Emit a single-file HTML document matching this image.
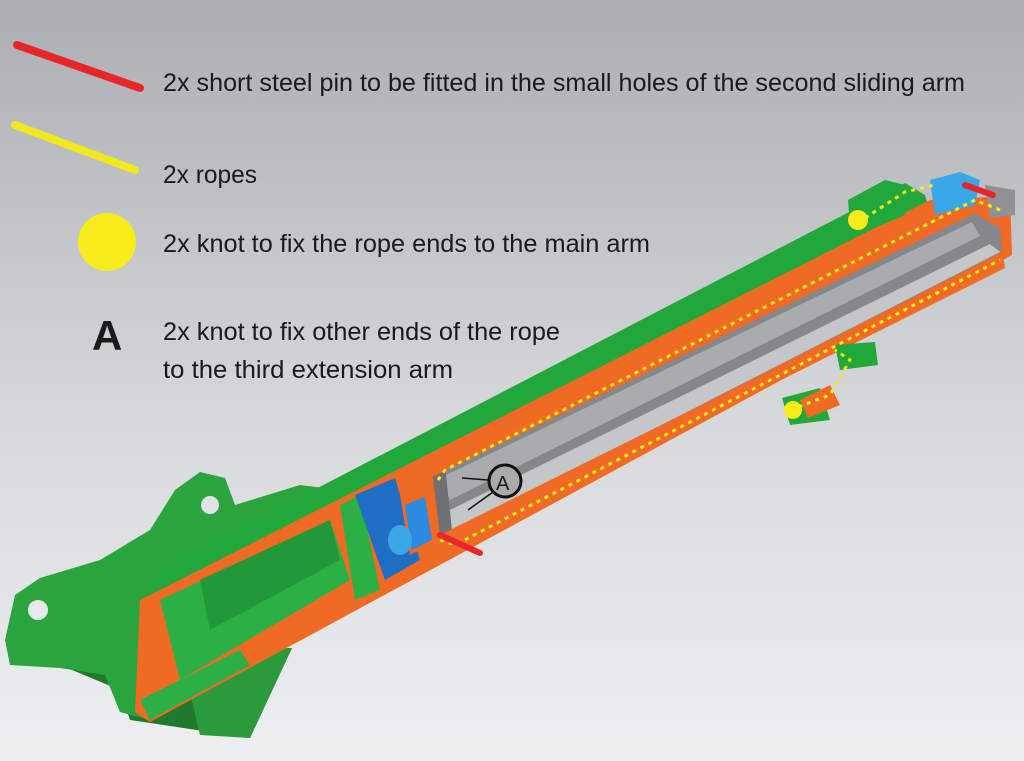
<!DOCTYPE html>
<html><head><style>
html,body{margin:0;padding:0}
body{width:1024px;height:761px;overflow:hidden;background:linear-gradient(#abaeb2,#d6d8da 55%,#eeeff0);}
svg{display:block}
text{font-family:"Liberation Sans Narrow","Liberation Sans",sans-serif;fill:#1a1a1a}
</style></head><body>
<svg width="1024" height="761" viewBox="0 0 1024 761">
<!-- legend -->
<line x1="17" y1="45" x2="140" y2="88" stroke="#e8262a" stroke-width="8" stroke-linecap="round"/>
<line x1="15" y1="125" x2="135" y2="170" stroke="#f2e81e" stroke-width="8" stroke-dasharray="12 4" stroke-linecap="round"/>
<circle cx="107" cy="242" r="29" fill="#f5ec1a"/>
<text x="92" y="350" font-size="42" font-weight="bold" style="font-family:'Liberation Sans',sans-serif">A</text>
<text x="163" y="91" font-size="25" textLength="802" lengthAdjust="spacingAndGlyphs">2x short steel pin to be fitted in the small holes of the second sliding arm</text>
<text x="163" y="183" font-size="25" textLength="94" lengthAdjust="spacingAndGlyphs">2x ropes</text>
<text x="163" y="252" font-size="25" textLength="487" lengthAdjust="spacingAndGlyphs">2x knot to fix the rope ends to the main arm</text>
<text x="163" y="340" font-size="25" textLength="397" lengthAdjust="spacingAndGlyphs">2x knot to fix other ends of the rope</text>
<text x="163" y="378" font-size="25" textLength="290" lengthAdjust="spacingAndGlyphs">to the third extension arm</text>

<!-- bracket dark lower blocks -->
<polygon points="60,665 120,690 130,720 250,738 292,648 180,650 70,650" fill="#1f7a2e"/>
<polygon points="180,650 292,648 250,738 200,735" fill="#2a9a3c"/>
<!-- bracket plate -->
<polygon points="5,640 15,595 40,578 100,560 150,530 175,490 200,472 225,478 235,505 300,485 340,490 150,720 120,712 105,675 60,668 10,665" fill="#2aa43c"/>
<circle cx="38" cy="610" r="10" fill="#e8e9ea"/>
<circle cx="210" cy="505" r="9" fill="#e0e2e4"/>
<circle cx="155" cy="628" r="10" fill="#1c7a2c"/>

<!-- main beam green top -->
<polygon points="150,575 905,183 925,195 930,212 160,598" fill="#22a83a"/>
<!-- orange outer -->
<polygon points="140,600 930,200 1010,196 1012,255 150,722 135,712" fill="#ef6a24"/>
<!-- green interior near bracket -->
<polygon points="160,600 330,520 350,580 180,680" fill="#2db043"/>
<polygon points="200,580 330,520 340,560 210,630" fill="#22983a"/>
<polygon points="140,700 240,650 250,665 150,720" fill="#2db043"/>
<polygon points="340,505 360,495 380,590 355,600" fill="#2db043"/>
<!-- blue block -->
<polygon points="355,495 395,478 420,560 385,580" fill="#1e6fc4"/>
<polygon points="400,495 430,482 440,540 410,555" fill="#ef6a24"/>
<polygon points="405,505 425,497 432,540 412,550" fill="#2a8be0"/>
<ellipse cx="400" cy="540" rx="12" ry="15" fill="#3aa7e8"/>
<!-- inner gray channel -->
<polygon points="432,470 972,212 1000,228 1002,252 452,532" fill="#85878a"/>
<polygon points="440,478 972,222 980,236 450,500" fill="#a9abad"/>
<polygon points="450,510 990,244 1000,252 452,532" fill="#c4c6c8"/>
<polygon points="432,470 445,465 452,532 440,535" fill="#6e7072"/>
<!-- orange separators -->
<polygon points="420,470 975,200 978,212 430,478" fill="#ef6a24"/>
<polygon points="440,535 1003,255 1005,268 445,548" fill="#ef6a24"/>
<!-- end stubs top right -->
<polygon points="848,200 885,180 905,185 905,215 870,230 850,225" fill="#22a83a"/>
<polygon points="930,180 960,172 980,180 975,205 935,215" fill="#3aa7e8"/>
<polygon points="985,185 1015,190 1015,215 990,218" fill="#8f9193"/>
<!-- lower stubs -->
<polygon points="835,345 875,342 878,365 840,370" fill="#22a83a"/>
<polygon points="782,398 820,388 830,420 790,425" fill="#22a83a"/>
<polygon points="800,400 830,385 840,405 808,418" fill="#ef6a24"/>
<!-- ropes -->
<g stroke="#f5ec1a" stroke-width="3" stroke-dasharray="4 5" fill="none">
<polyline points="438,480 445,470 975,200 1000,210"/>
<polyline points="440,540 455,545 1000,260"/>
<polyline points="865,218 905,192 935,185"/>
<polyline points="790,410 830,395 850,360 835,350"/>
</g>
<circle cx="858" cy="220" r="10" fill="#f5ec1a"/>
<circle cx="793" cy="410" r="9" fill="#f5ec1a"/>
<!-- pins -->
<line x1="440" y1="535" x2="480" y2="553" stroke="#e8262a" stroke-width="6" stroke-linecap="round"/>
<line x1="965" y1="185" x2="993" y2="195" stroke="#e8262a" stroke-width="6" stroke-linecap="round"/>
<!-- A marker -->
<line x1="488" y1="480" x2="462" y2="478" stroke="#111" stroke-width="1.5"/>
<line x1="493" y1="492" x2="468" y2="510" stroke="#111" stroke-width="1.5"/>
<circle cx="505" cy="481" r="16" fill="#aaa" stroke="#111" stroke-width="3"/>
<text x="496" y="490" font-size="20" style="font-family:'Liberation Sans',sans-serif">A</text>
</svg>
</body></html>
